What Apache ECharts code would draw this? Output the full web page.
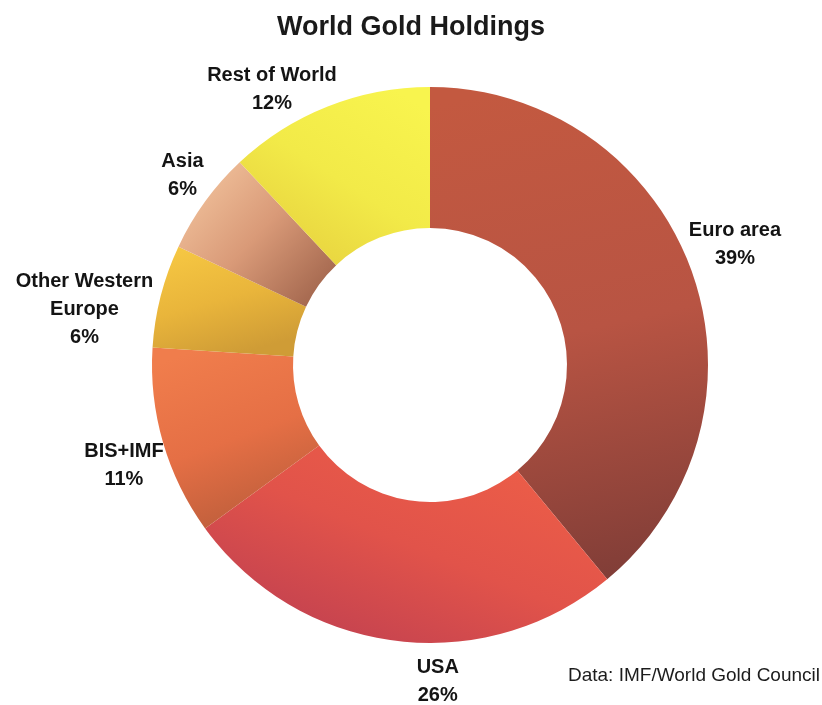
<!DOCTYPE html>
<html>
<head>
<meta charset="utf-8">
<title>World Gold Holdings</title>
<script src="https://cdn.jsdelivr.net/npm/echarts@6/dist/echarts.min.js"></script>
<style>
  html, body { margin: 0; padding: 0; background: #ffffff; }
  #chart { width: 822px; height: 705px; }
</style>
</head>
<body>
<div id="chart"></div>
<script>
// Holders of official gold, clockwise from twelve o'clock
const categories = ['Euro area', 'USA', 'BIS+IMF', 'Other Western\nEurope', 'Asia', 'Rest of World'];
// Share of world gold holdings, percent
const shares = [39, 26, 11, 6, 6, 12];

// Ring geometry
const PIE_CX = 430;
const PIE_CY = 365;
const R_IN = 137;
const R_OUT = 278;

// Shaded fill for each slice
const sliceFills = [
  { x: 0.3, y: 0, x2: 0.7, y2: 1, stops: ['#c35940', '#b85443', '#803d37'] },
  { x: 0.6, y: 0, x2: 0.4, y2: 1, stops: ['#eb5c48', '#e1534a', '#c7444f'] },
  { x: 0.3, y: 0, x2: 0.7, y2: 1, stops: ['#f07d4c', '#e56f45', '#b95c3a'] },
  { x: 0.3, y: 0, x2: 0.5, y2: 1, stops: ['#f5c642', '#e9b53b', '#cf9c36'] },
  { x: 0, y: 0, x2: 1, y2: 1, stops: ['#f7cba4', '#d99a78', '#985c45'] },
  { x: 0.8, y: 0, x2: 0.2, y2: 1, stops: ['#f8f44e', '#f2ea48', '#e6cf3e'] }
];

// Where each caption sits: angular turn (deg) from the slice middle and distance from the centre
const labelSpots = [
  { turn: -1.8, reach: 328 },
  { turn: -8.6, reach: 317 },
  { turn: -1.9, reach: 322 },
  { turn: -5.2, reach: 350 },
  { turn: 1.5, reach: 312 },
  { turn: -8.2, reach: 318 }
];

const total = shares.reduce((a, b) => a + b, 0);
const midAngles = [];
let acc = 0;
shares.forEach(v => {
  midAngles.push((acc + v / 2) / total * 360);
  acc += v;
});

function gradient(f) {
  return {
    type: 'linear', x: f.x, y: f.y, x2: f.x2, y2: f.y2,
    colorStops: [
      { offset: 0, color: f.stops[0] },
      { offset: 0.5, color: f.stops[1] },
      { offset: 1, color: f.stops[2] }
    ]
  };
}

const chart = echarts.init(document.getElementById('chart'), null, { renderer: 'canvas' });

chart.setOption({
  backgroundColor: '#ffffff',
  animation: false,
  title: [
    {
      text: 'World Gold Holdings',
      left: 'center',
      top: 14,
      padding: 0,
      textStyle: {
        fontFamily: 'Liberation Sans',
        fontSize: 27,
        fontWeight: 'bold',
        color: '#1a1a1a'
      }
    },
    {
      text: 'Data: IMF/World Gold Council',
      right: 2,
      top: 666,
      padding: 0,
      textStyle: {
        fontFamily: 'Liberation Sans',
        fontSize: 19,
        fontWeight: 'normal',
        color: '#1c1c1c'
      }
    }
  ],
  series: [
    {
      type: 'pie',
      center: [PIE_CX, PIE_CY],
      radius: [R_IN, R_OUT],
      startAngle: 90,
      clockwise: true,
      avoidLabelOverlap: false,
      silent: true,
      itemStyle: { borderWidth: 0 },
      label: {
        show: true,
        position: 'outside',
        formatter: p => p.name + '\n' + p.value + '%',
        fontFamily: 'Liberation Sans',
        fontSize: 20,
        fontWeight: 'bold',
        color: '#141414',
        lineHeight: 28,
        align: 'center'
      },
      labelLine: { show: false },
      labelLayout: function (params) {
        const i = params.dataIndex;
        const a = (midAngles[i] + labelSpots[i].turn) * Math.PI / 180;
        return {
          x: PIE_CX + labelSpots[i].reach * Math.sin(a),
          y: PIE_CY - labelSpots[i].reach * Math.cos(a),
          align: 'center',
          verticalAlign: 'middle'
        };
      },
      data: categories.map((name, i) => ({
        name: name,
        value: shares[i],
        itemStyle: { color: gradient(sliceFills[i]) }
      }))
    }
  ]
});
</script>
</body>
</html>
